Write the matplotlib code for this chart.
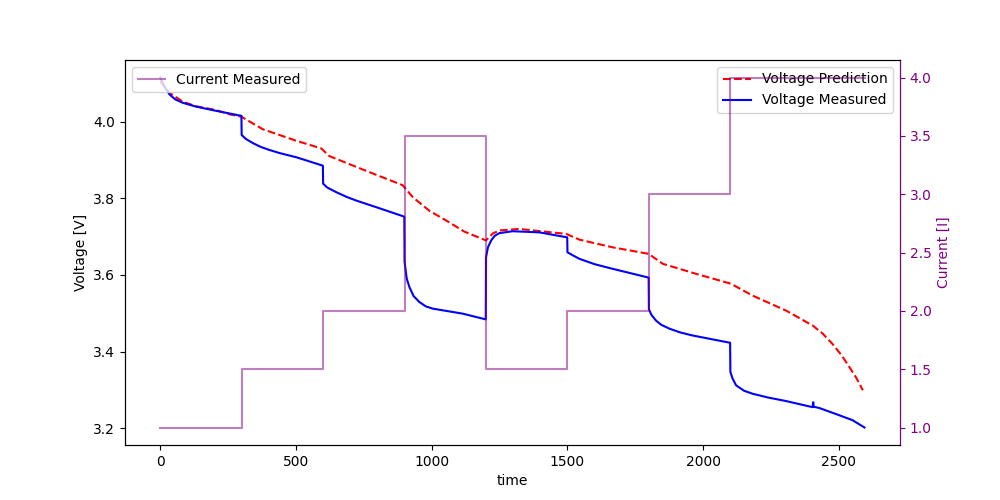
import matplotlib
matplotlib.use('Agg')
import matplotlib.pyplot as plt

# -------------------------------------------------------------------------------------
# Data
time_meas = [0, 15, 34, 55, 83, 132, 206, 299, 300, 315, 329, 341, 370, 402, 439, 501,
             599, 600, 615, 648, 685, 722, 807, 899, 900, 908, 918, 933, 955, 978, 1004,
             1114, 1199, 1200, 1207, 1219, 1232, 1249, 1298, 1397, 1499, 1500, 1520, 1544,
             1600, 1666, 1799, 1800, 1810, 1826, 1845, 1875, 1915, 1961, 2099, 2100, 2108,
             2121, 2150, 2182, 2240, 2305, 2403, 2405, 2407, 2427, 2501, 2550, 2594]
volt_meas = [4.115, 4.092, 4.071, 4.058, 4.049, 4.039, 4.028, 4.015, 3.965, 3.955, 3.949,
             3.944, 3.934, 3.926, 3.918, 3.907, 3.885, 3.838, 3.828, 3.816, 3.804, 3.794,
             3.774, 3.752, 3.634, 3.590, 3.568, 3.545, 3.529, 3.518, 3.512, 3.499, 3.484,
             3.646, 3.672, 3.690, 3.702, 3.709, 3.714, 3.711, 3.698, 3.659, 3.651, 3.642,
             3.628, 3.616, 3.593, 3.510, 3.495, 3.481, 3.470, 3.460, 3.450, 3.442, 3.423,
             3.347, 3.330, 3.312, 3.298, 3.290, 3.280, 3.271, 3.255, 3.268, 3.256, 3.253,
             3.234, 3.221, 3.202]

time_pred = [0, 34, 83, 132, 206, 255, 298, 378, 501, 593, 623, 746, 807, 893, 930, 992,
             1053, 1120, 1200, 1225, 1249, 1323, 1495, 1544, 1666, 1799, 1851, 1973, 2102,
             2182, 2305, 2403, 2440, 2476, 2510, 2538, 2565, 2588]
volt_pred = [4.105, 4.075, 4.052, 4.040, 4.030, 4.019, 4.013, 3.980, 3.950, 3.930, 3.910,
             3.875, 3.858, 3.834, 3.803, 3.767, 3.742, 3.713, 3.690, 3.708, 3.716, 3.720,
             3.707, 3.692, 3.672, 3.655, 3.629, 3.603, 3.577, 3.546, 3.507, 3.468, 3.447,
             3.420, 3.390, 3.360, 3.330, 3.299]

time_curr = [0, 300, 600, 900, 1200, 1500, 1800, 2100, 2595]
curr_meas = [1.0, 1.5, 2.0, 3.5, 1.5, 2.0, 3.0, 4.0, 4.0]
# -------------------------------------------------------------------------------------


# -------------------------------------------------------------------------------------
# Figure
fig, ax1 = plt.subplots(figsize=(10, 5), dpi=100)

ax1.plot(time_pred, volt_pred, 'r--', label='Voltage Prediction')
ax1.plot(time_meas, volt_meas, 'b-', label='Voltage Measured')
ax1.set_xlabel('time')
ax1.set_ylabel('Voltage [V]')
ax1.legend(loc='upper right')

ax2 = ax1.twinx()
ax2.step(time_curr, curr_meas, where='post', color='purple', alpha=0.5,
         label='Current Measured')
ax2.set_ylabel('Current [I]', color='purple')
ax2.tick_params(axis='y', colors='purple')
ax2.spines['right'].set_color('purple')
ax2.legend(loc='upper left')

fig.savefig('out.png')
# -------------------------------------------------------------------------------------
